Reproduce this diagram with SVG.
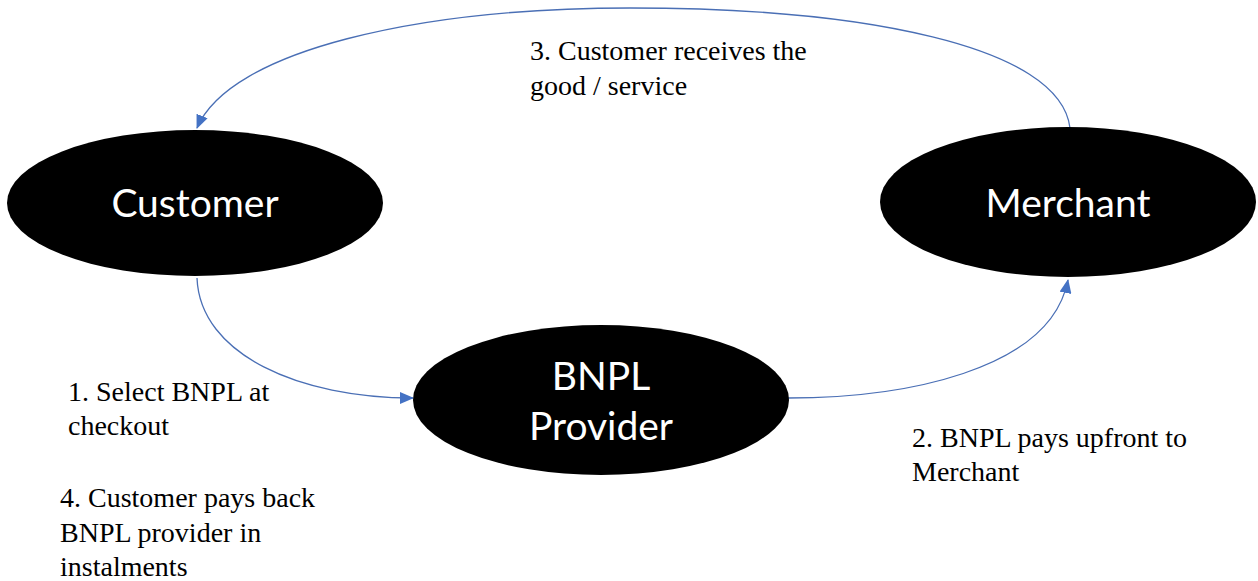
<svg xmlns="http://www.w3.org/2000/svg" width="1258" height="581" viewBox="0 0 1258 581">
  <style>
    .node { fill: #000000; }
    .node-label { fill: #ffffff; font-family: Lato, "Open Sans", sans-serif; font-size: 39px; text-anchor: middle; }
    .step { fill: #000000; font-family: "Liberation Serif", serif; font-size: 28px; }
    .flow { fill: none; stroke: #4a6fb5; stroke-width: 1.3; marker-end: url(#arrow); }
  </style>
  <defs>
    <marker id="arrow" markerWidth="14" markerHeight="12" refX="13" refY="6" orient="auto" markerUnits="userSpaceOnUse">
      <path d="M0,0 L14,6 L0,12 Z" fill="#4472c4"/>
    </marker>
  </defs>

  <!-- flow connectors -->
  <g id="connectors">
    <path class="flow" d="M1070,128 C1060,45 860,8 630,8 C420,8 230,50 197,128"/>
    <path class="flow" d="M197,278 C200,355 300,398 413,398"/>
    <path class="flow" d="M788,398 C900,398 1050,372 1068,280"/>
  </g>

  <!-- parties -->
  <g id="customer">
    <ellipse class="node" cx="195" cy="203" rx="188" ry="73"/>
    <text class="node-label" x="195" y="217">Customer</text>
  </g>
  <g id="merchant">
    <ellipse class="node" cx="1068" cy="202" rx="188" ry="75"/>
    <text class="node-label" x="1068" y="217">Merchant</text>
  </g>
  <g id="bnpl-provider">
    <ellipse class="node" cx="601" cy="400" rx="188" ry="75"/>
    <text class="node-label" x="601" y="390">BNPL</text>
    <text class="node-label" x="601" y="440">Provider</text>
  </g>

  <!-- step labels -->
  <g id="labels">
    <text class="step" x="530" y="60">3. Customer receives the</text>
    <text class="step" x="530" y="95">good / service</text>
    <text class="step" x="68" y="401">1. Select BNPL at</text>
    <text class="step" x="68" y="435">checkout</text>
    <text class="step" x="912" y="447">2. BNPL pays upfront to</text>
    <text class="step" x="912" y="481">Merchant</text>
    <text class="step" x="60" y="507">4. Customer pays back</text>
    <text class="step" x="60" y="542">BNPL provider in</text>
    <text class="step" x="60" y="576">instalments</text>
  </g>
</svg>
